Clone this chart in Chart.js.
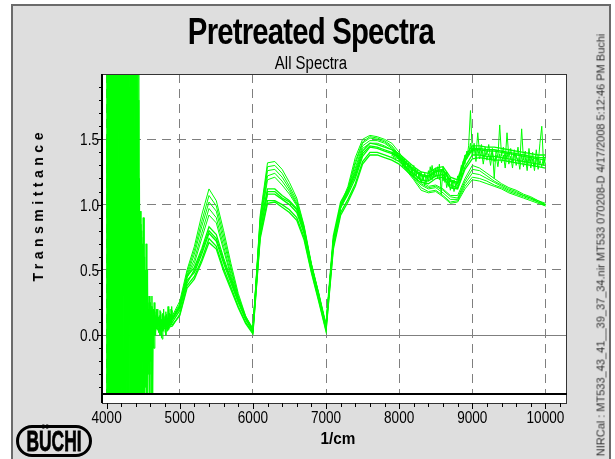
<!DOCTYPE html>
<html>
<head>
<meta charset="utf-8">
<script src="https://cdn.jsdelivr.net/npm/chart.js@4.4.1/dist/chart.umd.min.js"></script>
<style>
  html, body { margin: 0; padding: 0; background: #fff; }
  #page { position: relative; width: 615px; height: 459px; overflow: hidden; }
  #panel { position: absolute; left: 11px; top: 4px; width: 596px; height: 480px; background: #dedede; border: 2px solid #6b6b6b; }
  #spectra { position: absolute; left: 0; top: 0; }
  .txt { position: absolute; white-space: nowrap; color: #000; font-family: 'Liberation Sans', Arial, sans-serif; }
  #title { left: 11px; width: 600px; top: 14px; text-align: center; font-size: 36px; line-height: 36px; font-weight: bold; letter-spacing: -1px; transform: scaleX(0.815); }
  #subtitle { left: 11px; width: 600px; top: 54px; text-align: center; font-size: 18px; line-height: 18px; transform: scaleX(0.83); }
  #xtitle { left: 238px; width: 200px; top: 430px; text-align: center; font-size: 17px; line-height: 17px; font-weight: bold; transform: scaleX(0.9); }
  #ytitle { left: 38px; top: 207px; transform: translate(-50%, -50%) rotate(-90deg); font-size: 14px; line-height: 14px; font-weight: bold; letter-spacing: 4.5px; padding-left: 4.5px; }
  #stamp { left: 601px; top: 245px; transform: translate(-50%, -50%) rotate(-90deg); font-size: 11px; line-height: 11px; color: #333; }
  #logo { position: absolute; left: 16px; top: 425px; width: 70px; height: 26px; border: 3px solid #000; border-radius: 16px; }
  #logo span { position: absolute; left: 50%; top: 50%; transform: translate(-50%, -50%) scaleX(0.6); font-family: 'Liberation Sans', Arial, sans-serif; font-weight: bold; font-size: 29px; line-height: 29px; color: #000; -webkit-text-stroke: 0.8px #000; }
</style>
</head>
<body>
<div id="page">
  <div id="panel"></div>
  <canvas id="spectra" width="615" height="459"></canvas>
  <div class="txt" id="title">Pretreated Spectra</div>
  <div class="txt" id="subtitle">All Spectra</div>
  <div class="txt" id="ytitle">Transmittance</div>
  <div class="txt" id="xtitle">1/cm</div>
  <div class="txt" id="stamp">NIRCal : MT533_43_41__39_37_34.nir MT533 070208-D 4/17/2008 5:12:46 PM Buchi</div>
  <div id="logo"><span>BÜCHI</span></div>
</div>
<script>
// wavenumber grid shared by the smooth spectra (1/cm)
const wavenumbers = [
  4600, 4700, 4800, 4900, 5000, 5100, 5200, 5300, 5400, 5500,
  5600, 5700, 5800, 5900, 6000, 6100, 6200, 6300, 6400, 6500,
  6600, 6700, 6800, 6900, 7000, 7100, 7200, 7300, 7400, 7500,
  7600, 7700, 7800, 7900, 8000, 8100, 8200, 8300, 8400, 8500,
  8600, 8700, 8800, 8900, 9000, 9100, 9200, 9300, 9400, 9500,
  9600, 9700, 9800, 9900, 10000
];

// main bundle of spectra
const mainA = [
  0.10, 0.08, 0.08, 0.10, 0.19, 0.42, 0.48, 0.62, 0.78, 0.72,
  0.55, 0.40, 0.25, 0.12, 0.03, 0.80, 1.08, 1.08, 1.04, 1.00,
  0.94, 0.78, 0.52, 0.30, 0.06, 0.72, 0.98, 1.08, 1.20, 1.37,
  1.44, 1.43, 1.41, 1.39, 1.36, 1.31, 1.26, 1.22, 1.21, 1.25,
  1.26, 1.18, 1.16, 1.33, 1.42, 1.42, 1.41, 1.41, 1.40, 1.39,
  1.38, 1.37, 1.36, 1.35, 1.34
];
const mainB = [
  0.14, 0.12, 0.11, 0.13, 0.22, 0.45, 0.52, 0.66, 0.83, 0.77,
  0.59, 0.43, 0.28, 0.14, 0.05, 0.84, 1.12, 1.12, 1.07, 1.03,
  0.97, 0.80, 0.54, 0.32, 0.08, 0.76, 1.02, 1.12, 1.24, 1.41,
  1.47, 1.46, 1.44, 1.42, 1.39, 1.34, 1.29, 1.25, 1.24, 1.28,
  1.29, 1.21, 1.19, 1.37, 1.45, 1.45, 1.44, 1.44, 1.43, 1.42,
  1.41, 1.40, 1.39, 1.38, 1.38
];
const mainC = [
  0.06, 0.05, 0.05, 0.07, 0.16, 0.38, 0.45, 0.58, 0.74, 0.68,
  0.51, 0.37, 0.22, 0.10, 0.02, 0.76, 1.03, 1.03, 1.00, 0.96,
  0.90, 0.75, 0.49, 0.27, 0.04, 0.68, 0.94, 1.04, 1.16, 1.33,
  1.40, 1.40, 1.38, 1.36, 1.33, 1.28, 1.23, 1.19, 1.18, 1.22,
  1.23, 1.15, 1.13, 1.29, 1.38, 1.38, 1.37, 1.37, 1.36, 1.35,
  1.34, 1.33, 1.32, 1.31, 1.30
];
const mainD = [
  0.12, 0.10, 0.06, 0.12, 0.21, 0.40, 0.50, 0.64, 0.80, 0.74,
  0.57, 0.42, 0.26, 0.13, 0.04, 0.78, 1.10, 1.10, 1.05, 1.02,
  0.96, 0.79, 0.53, 0.31, 0.07, 0.70, 1.00, 1.10, 1.22, 1.39,
  1.45, 1.44, 1.42, 1.40, 1.37, 1.32, 1.27, 1.23, 1.22, 1.26,
  1.27, 1.19, 1.17, 1.35, 1.43, 1.43, 1.42, 1.42, 1.41, 1.40,
  1.39, 1.38, 1.37, 1.36, 1.36
];
const mainE = [
  0.04, 0.07, 0.09, 0.08, 0.15, 0.36, 0.43, 0.56, 0.71, 0.66,
  0.49, 0.35, 0.21, 0.09, 0.01, 0.74, 1.01, 1.02, 0.98, 0.94,
  0.88, 0.73, 0.48, 0.26, 0.03, 0.66, 0.92, 1.02, 1.14, 1.31,
  1.38, 1.38, 1.36, 1.34, 1.31, 1.26, 1.21, 1.17, 1.16, 1.20,
  1.21, 1.13, 1.12, 1.27, 1.35, 1.36, 1.35, 1.34, 1.34, 1.33,
  1.32, 1.31, 1.30, 1.29, 1.28
];

// the few samples that sit high in the bands and end low above 9000
const outlierA = [
  0.10, 0.10, 0.12, 0.15, 0.26, 0.50, 0.68, 0.92, 1.12, 1.03,
  0.80, 0.55, 0.32, 0.15, 0.04, 0.92, 1.32, 1.33, 1.27, 1.17,
  1.05, 0.84, 0.55, 0.32, 0.07, 0.74, 1.00, 1.14, 1.36, 1.50,
  1.53, 1.52, 1.50, 1.47, 1.40, 1.31, 1.24, 1.18, 1.14, 1.15,
  1.12, 1.07, 1.07, 1.20, 1.30, 1.28, 1.24, 1.20, 1.16, 1.13,
  1.11, 1.08, 1.06, 1.03, 1.01
];
const outlierB = [
  0.09, 0.11, 0.10, 0.14, 0.24, 0.48, 0.65, 0.87, 1.07, 0.99,
  0.76, 0.52, 0.30, 0.14, 0.04, 0.90, 1.29, 1.30, 1.24, 1.14,
  1.03, 0.83, 0.54, 0.31, 0.07, 0.73, 0.99, 1.12, 1.33, 1.48,
  1.52, 1.51, 1.49, 1.45, 1.38, 1.29, 1.22, 1.16, 1.13, 1.14,
  1.11, 1.06, 1.05, 1.18, 1.27, 1.26, 1.22, 1.18, 1.15, 1.12,
  1.10, 1.07, 1.05, 1.03, 1.00
];
const outlierC = [
  0.11, 0.09, 0.11, 0.13, 0.23, 0.46, 0.62, 0.83, 1.02, 0.95,
  0.72, 0.50, 0.29, 0.14, 0.03, 0.88, 1.26, 1.27, 1.21, 1.12,
  1.01, 0.82, 0.53, 0.31, 0.06, 0.72, 0.98, 1.11, 1.31, 1.47,
  1.51, 1.50, 1.48, 1.44, 1.37, 1.28, 1.21, 1.15, 1.12, 1.13,
  1.09, 1.04, 1.04, 1.16, 1.24, 1.23, 1.20, 1.17, 1.14, 1.11,
  1.09, 1.07, 1.05, 1.02, 1.00
];
const outlierD = [
  0.08, 0.10, 0.11, 0.13, 0.22, 0.45, 0.58, 0.78, 0.97, 0.90,
  0.68, 0.47, 0.28, 0.13, 0.03, 0.86, 1.22, 1.24, 1.18, 1.10,
  1.00, 0.81, 0.53, 0.30, 0.06, 0.72, 0.98, 1.10, 1.28, 1.45,
  1.49, 1.49, 1.47, 1.43, 1.36, 1.27, 1.20, 1.13, 1.10, 1.11,
  1.07, 1.02, 1.03, 1.14, 1.21, 1.20, 1.18, 1.15, 1.13, 1.10,
  1.08, 1.06, 1.04, 1.02, 0.99
];
const outlierE = [
  0.10, 0.09, 0.10, 0.12, 0.21, 0.44, 0.55, 0.74, 0.92, 0.86,
  0.65, 0.45, 0.27, 0.13, 0.03, 0.84, 1.19, 1.21, 1.15, 1.08,
  0.99, 0.80, 0.52, 0.30, 0.06, 0.71, 0.97, 1.09, 1.26, 1.43,
  1.47, 1.47, 1.45, 1.42, 1.35, 1.26, 1.19, 1.11, 1.09, 1.10,
  1.06, 1.01, 1.02, 1.12, 1.19, 1.18, 1.16, 1.14, 1.12, 1.09,
  1.07, 1.05, 1.03, 1.01, 0.99
];

// detector noise at the low-wavenumber end, sampled every 10 1/cm
const noiseWavenumbers = [
  4000, 4010, 4020, 4030, 4040, 4050, 4060, 4070, 4080, 4090,
  4100, 4110, 4120, 4130, 4140, 4150, 4160, 4170, 4180, 4190,
  4200, 4210, 4220, 4230, 4240, 4250, 4260, 4270, 4280, 4290,
  4300, 4310, 4320, 4330, 4340, 4350, 4360, 4370, 4380, 4390,
  4400, 4410, 4420, 4430, 4440, 4450, 4460, 4470, 4480, 4490,
  4500, 4510, 4520, 4530, 4540, 4550, 4560, 4570, 4580, 4590,
  4600, 4610, 4620, 4630, 4640, 4650, 4660, 4670, 4680, 4690,
  4700, 4710, 4720, 4730, 4740, 4750, 4760, 4770, 4780, 4790,
  4800, 4810, 4820, 4830, 4840, 4850, 4860, 4870, 4880, 4890,
  4900
];
const lowNoiseA = [
  2.6, -0.7, 2.2, -0.9, 2.8, -0.5, 2.4, -0.8, 2.1, -0.6,
  2.9, -0.7, 2.3, -0.9, 1.9, -0.6, 2.7, -0.8, 2.2, -0.5,
  2.5, -0.9, 2.0, -0.7, 2.8, -0.6, 2.3, -0.8, 2.1, -0.7,
  2.6, -0.5, 2.2, -0.9, 2.4, -0.6, 2.0, -0.8, 2.5, -0.7,
  2.2, -0.6, 2.3, -0.8, 2.1, -0.7, 0.95, -0.6, 0.8, -0.5,
  0.9, -0.7, 0.6, -0.4, 0.7, -0.6, 0.5, -0.3, 0.3, -0.5,
  0.25, -0.2, 0.3, -0.6, 0.2, -0.1, 0.18, 0.0, 0.2, 0.04,
  0.12, 0.02, 0.15, 0.05, 0.18, -0.02, 0.12, 0.04, 0.2, 0.06,
  0.14, 0.0, 0.16, 0.08, 0.22, 0.05, 0.13, 0.1, 0.2, 0.08,
  0.15
];
const lowNoiseB = [
  -0.8, 2.4, -0.6, 2.7, -0.9, 2.2, -0.7, 2.5, -0.5, 2.1,
  -0.8, 2.6, -0.6, 2.3, -0.9, 2.8, -0.7, 2.0, -0.6, 2.4,
  -0.8, 2.2, -0.5, 2.7, -0.7, 2.1, -0.9, 2.5, -0.6, 2.3,
  -0.8, 2.0, -0.7, 2.6, -0.5, 2.2, -0.8, 2.4, -0.6, 2.1,
  -0.9, 2.3, -0.7, 1.8, -0.6, 1.2, -0.5, 0.85, -0.7, 0.7,
  -0.4, 0.9, -0.6, 0.5, -0.5, 0.45, -0.3, 0.2, -0.45, 0.3,
  -0.2, 0.22, -0.5, 0.15, -0.1, 0.25, 0.0, 0.15, 0.05, 0.2,
  0.08, 0.14, 0.03, 0.19, 0.06, 0.12, -0.03, 0.17, 0.07, 0.11,
  0.02, 0.18, 0.09, 0.13, 0.04, 0.2, 0.07, 0.16, 0.1, 0.22,
  0.12
];
const lowNoiseC = [
  1.5, -0.3, 1.9, 0.2, 2.2, -0.4, 1.2, -0.6, 1.8, 0.4,
  2.1, -0.2, 1.6, -0.5, 2.4, 0.1, 1.3, -0.7, 1.9, -0.1,
  2.2, -0.4, 1.4, 0.3, 2.0, -0.6, 1.7, -0.2, 2.3, -0.5,
  1.5, 0.2, 1.9, -0.4, 1.2, -0.6, 2.1, -0.1, 1.6, -0.5,
  1.8, -0.3, 1.1, -0.6, 0.9, -0.4, 0.6, -0.3, 0.75, -0.2,
  0.5, -0.45, 0.4, -0.2, 0.35, -0.5, 0.3, -0.1, 0.25, -0.3,
  0.18, -0.15, 0.22, -0.05, 0.2, 0.0, 0.14, 0.03, 0.16, 0.06,
  0.1, 0.08, 0.12, 0.0, 0.1, 0.05, 0.16, 0.03, 0.11, 0.09,
  0.15, 0.06, 0.12, 0.03, 0.13, 0.1, 0.17, 0.07, 0.14, 0.12,
  0.19
];

// noisy top of the bundle above 7900, sampled every 25 1/cm
const hiNoiseWavenumbers = [
  7900, 7925, 7950, 7975, 8000, 8025, 8050, 8075,
  8100, 8125, 8150, 8175, 8200, 8225, 8250, 8275,
  8300, 8325, 8350, 8375, 8400, 8425, 8450, 8475,
  8500, 8525, 8550, 8575, 8600, 8625, 8650, 8675,
  8700, 8725, 8750, 8775, 8800, 8825, 8850, 8875,
  8900, 8925, 8950, 8975, 9000, 9025, 9050, 9075,
  9100, 9125, 9150, 9175, 9200, 9225, 9250, 9275,
  9300, 9325, 9350, 9375, 9400, 9425, 9450, 9475,
  9500, 9525, 9550, 9575, 9600, 9625, 9650, 9675,
  9700, 9725, 9750, 9775, 9800, 9825, 9850, 9875,
  9900, 9925, 9950, 9975, 10000
];
const hiNoiseA = [
  1.40, 1.36, 1.41, 1.35, 1.38, 1.33, 1.36, 1.30,
  1.34, 1.27, 1.31, 1.24, 1.30, 1.22, 1.27, 1.20,
  1.25, 1.18, 1.24, 1.17, 1.26, 1.19, 1.30, 1.21,
  1.28, 1.20, 1.31, 1.08, 1.29, 1.17, 1.25, 1.14,
  1.21, 1.12, 1.19, 1.13, 1.22, 1.18, 1.30, 1.27,
  1.38, 1.35, 1.45, 1.72, 1.40, 1.47, 1.38, 1.55,
  1.39, 1.46, 1.36, 1.44, 1.38, 1.46, 1.35, 1.43,
  1.20, 1.42, 1.36, 1.61, 1.37, 1.44, 1.34, 1.55,
  1.36, 1.43, 1.33, 1.42, 1.35, 1.44, 1.32, 1.58,
  1.34, 1.41, 1.30, 1.43, 1.32, 1.40, 1.29, 1.42,
  1.31, 1.47, 1.60, 1.30, 1.36
];
const hiNoiseB = [
  1.37, 1.42, 1.34, 1.40, 1.33, 1.37, 1.29, 1.35,
  1.27, 1.32, 1.23, 1.29, 1.21, 1.28, 1.18, 1.25,
  1.17, 1.23, 1.15, 1.22, 1.18, 1.29, 1.19, 1.27,
  1.21, 1.29, 1.19, 1.27, 1.18, 1.24, 1.13, 1.20,
  1.11, 1.18, 1.10, 1.16, 1.14, 1.24, 1.22, 1.33,
  1.31, 1.41, 1.38, 1.47, 1.37, 1.44, 1.33, 1.43,
  1.35, 1.41, 1.31, 1.40, 1.34, 1.39, 1.30, 1.40,
  1.33, 1.38, 1.29, 1.39, 1.32, 1.38, 1.28, 1.40,
  1.31, 1.37, 1.28, 1.39, 1.30, 1.36, 1.27, 1.38,
  1.29, 1.36, 1.26, 1.37, 1.28, 1.35, 1.26, 1.36,
  1.27, 1.34, 1.29, 1.37, 1.31
];

const xTicks = [4000, 5000, 6000, 7000, 8000, 9000, 10000];
const yTicks = [0, 0.5, 1.0, 1.5];

const lineGreen = '#00ff00';
const labelFont = "17px 'Liberation Sans', Arial, sans-serif";

function pairUp(xs, ys) {
  return xs.map((x, i) => ({ x: x, y: ys[i] }));
}

const datasets = [];
[lowNoiseA, lowNoiseB, lowNoiseC].forEach(ys => datasets.push({ data: pairUp(noiseWavenumbers, ys) }));
[mainA, mainB, mainC, mainD, mainE].forEach(ys => datasets.push({ data: pairUp(wavenumbers, ys), borderWidth: 1.3 }));
[hiNoiseA, hiNoiseB].forEach(ys => datasets.push({ data: pairUp(hiNoiseWavenumbers, ys) }));
[outlierA, outlierB, outlierC, outlierD, outlierE].forEach(ys => datasets.push({ data: pairUp(wavenumbers, ys) }));
datasets.forEach(d => {
  d.borderColor = lineGreen;
  d.borderWidth = d.borderWidth || 1;
  d.pointRadius = 0;
  d.fill = false;
  d.clip = 0;
});

// narrow tick label, drawn squeezed like the plotter's condensed face
function squeezedText(ctx, text, x, y, align) {
  ctx.save();
  ctx.translate(x, y);
  ctx.scale(0.8, 1);
  ctx.textAlign = align;
  ctx.textBaseline = 'alphabetic';
  ctx.fillText(text, 0, 0);
  ctx.restore();
}

// white plot box, heavy baseline, tick marks and tick labels
const framePlugin = {
  id: 'frame',
  beforeDraw(chart) {
    const { ctx, chartArea: a } = chart;
    ctx.save();
    ctx.fillStyle = '#fff';
    ctx.fillRect(a.left, a.top, a.right - a.left, a.bottom - a.top + 9);
    ctx.restore();
  },
  afterDraw(chart) {
    const { ctx, chartArea: a, scales } = chart;
    const boxBottom = a.bottom + 9;
    ctx.save();
    ctx.strokeStyle = '#333';
    ctx.lineWidth = 1;
    ctx.strokeRect(a.left + 0.5, a.top + 0.5, a.right - a.left - 1, boxBottom - a.top);
    ctx.beginPath();
    ctx.strokeStyle = '#000';
    ctx.lineWidth = 2;
    ctx.moveTo(a.left, a.bottom);
    ctx.lineTo(a.right, a.bottom);
    ctx.moveTo(a.left, a.top);
    ctx.lineTo(a.left, boxBottom);
    ctx.stroke();

    ctx.lineWidth = 1;
    ctx.beginPath();
    for (let v = 4000; v <= 10200; v += 200) {
      const px = Math.round(scales.x.getPixelForValue(v)) + 0.5;
      const len = v % 1000 === 0 ? 6 : 4;
      ctx.moveTo(px, boxBottom);
      ctx.lineTo(px, boxBottom + len);
    }
    for (let k = -4; k <= 19; k++) {
      const py = Math.round(scales.y.getPixelForValue(k / 10)) + 0.5;
      const len = k % 5 === 0 ? 5 : 3;
      ctx.moveTo(a.left - len, py);
      ctx.lineTo(a.left, py);
    }
    ctx.stroke();

    ctx.fillStyle = '#000';
    ctx.font = labelFont;
    scales.x.ticks.forEach(t => {
      squeezedText(ctx, String(t.value), scales.x.getPixelForValue(t.value), boxBottom + 20, 'center');
    });
    scales.y.ticks.forEach(t => {
      squeezedText(ctx, t.value.toFixed(1), a.left - 3, scales.y.getPixelForValue(t.value) + 6, 'right');
    });
    ctx.restore();
  }
};

const dashFor = c => (c.tick && c.tick.value === 0 ? [] : [9, 6]);

new Chart(document.getElementById('spectra'), {
  type: 'line',
  data: { datasets },
  options: {
    responsive: false,
    animation: false,
    events: [],
    layout: { padding: { left: 0, top: 74, right: 48, bottom: 0 } },
    plugins: { legend: { display: false }, tooltip: { enabled: false }, title: { display: false } },
    elements: { line: { tension: 0 }, point: { radius: 0 } },
    scales: {
      x: {
        type: 'linear',
        min: 3937,
        max: 10295,
        afterFit: s => { s.height = 65; },
        afterBuildTicks: s => { s.ticks = xTicks.map(v => ({ value: v })); },
        grid: { color: '#7f7f7f', lineWidth: 1, drawTicks: false },
        border: { display: false, dash: dashFor },
        ticks: { display: false }
      },
      y: {
        type: 'linear',
        min: -0.45,
        max: 2.0,
        afterFit: s => { s.width = 102; },
        afterBuildTicks: s => { s.ticks = yTicks.map(v => ({ value: v })); },
        grid: { color: '#7f7f7f', lineWidth: 1, drawTicks: false },
        border: { display: false, dash: dashFor },
        ticks: { display: false }
      }
    }
  },
  plugins: [framePlugin]
});
</script>
</body>
</html>
